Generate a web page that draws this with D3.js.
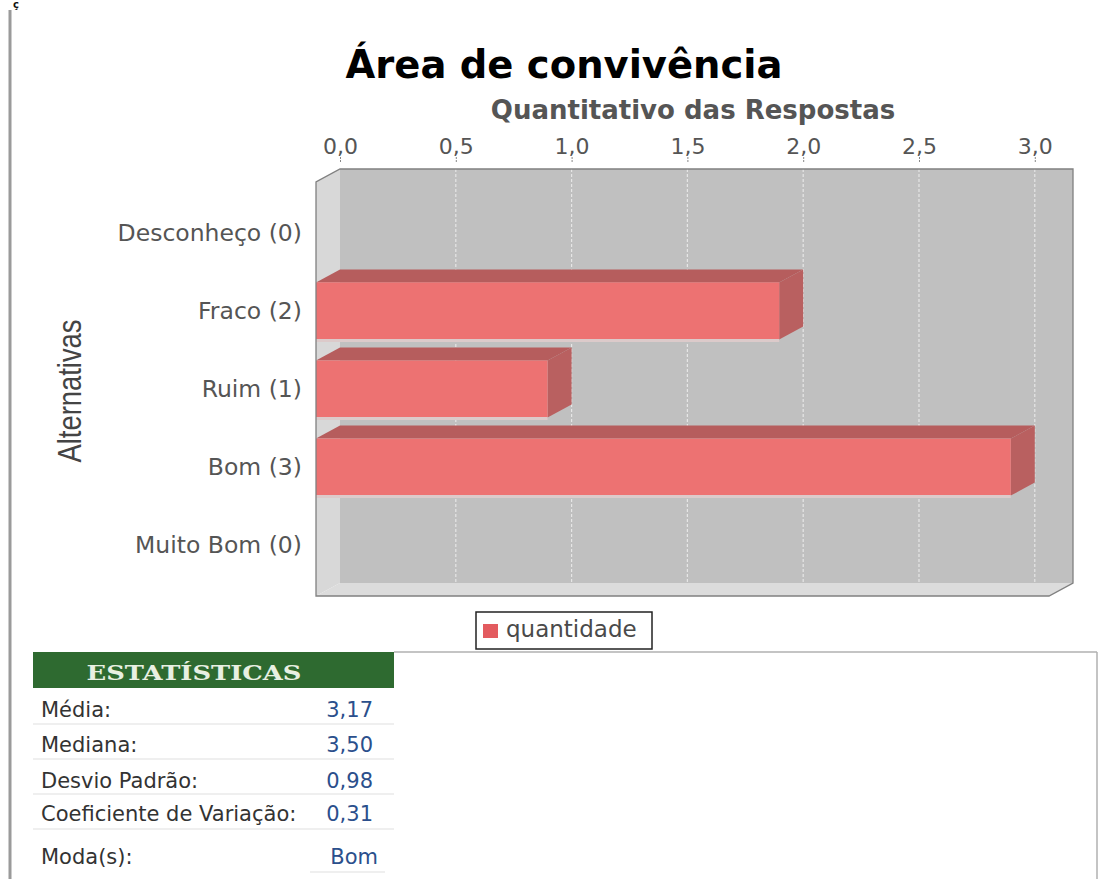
<!DOCTYPE html>
<html>
<head>
<meta charset="utf-8">
<script src="https://cdn.jsdelivr.net/npm/d3@7/dist/d3.min.js"></script>
<style>
  html, body { margin: 0; padding: 0; background: #fff; }
  svg { display: block; }
</style>
</head>
<body>
<svg id="chart" width="1100" height="879"></svg>
<script>
// Survey answers for "Área de convivência"
const categories = ["Desconheço", "Fraco", "Ruim", "Bom", "Muito Bom"];
const counts = [0, 2, 1, 3, 0];
const xTicks = [0, 0.5, 1.0, 1.5, 2.0, 2.5, 3.0];
const seriesName = "quantidade";

// Summary statistics table
const statLabels = ["Média:", "Mediana:", "Desvio Padrão:", "Coeficiente de Variação:", "Moda(s):"];
const statValues = ["3,17", "3,50", "0,98", "0,31", "Bom"];

const svg = d3.select("#chart");
const sans = "'DejaVu Sans', Verdana, sans-serif";

// 3D box geometry: back wall plus depth offset towards the viewer
const depthX = 24, depthY = 13;
const back = { left: 340, right: 1073, top: 169, bottom: 583 };

const x = d3.scaleLinear().domain([0, 3.165]).range([back.left, back.right]);
const y = d3.scaleBand()
  .domain(categories)
  .range([back.top + depthY, back.bottom + depthY])
  .paddingInner(0.27)
  .paddingOuter(0.285);

// page edge on the left
svg.append("line").attr("x1", 10).attr("x2", 10).attr("y1", 10).attr("y2", 879)
  .attr("stroke", "#9a9a9a").attr("stroke-width", 3);
svg.append("text").attr("x", 13).attr("y", 8).attr("font-family", sans)
  .attr("font-weight", "bold").attr("font-size", 10).attr("fill", "#111").text("ç");

// titles
svg.append("text").attr("x", 564).attr("y", 78).attr("text-anchor", "middle")
  .attr("font-family", sans).attr("font-weight", "bold").attr("font-size", 38.5)
  .attr("fill", "#000").text("Área de convivência");
svg.append("text").attr("x", 693).attr("y", 119).attr("text-anchor", "middle")
  .attr("font-family", sans).attr("font-weight", "bold").attr("font-size", 26)
  .attr("fill", "#555").text("Quantitativo das Respostas");

// walls
const plot = svg.append("g");
plot.append("rect").attr("x", back.left).attr("y", back.top)
  .attr("width", back.right - back.left).attr("height", back.bottom - back.top)
  .attr("fill", "#c0c0c0");
plot.append("polygon")
  .attr("points", [[back.left - depthX, back.top + depthY], [back.left, back.top],
                   [back.left, back.bottom], [back.left - depthX, back.bottom + depthY]].join(" "))
  .attr("fill", "#d8d8d8");
plot.append("polygon")
  .attr("points", [[back.left - depthX, back.bottom + depthY], [back.left, back.bottom],
                   [back.right, back.bottom], [back.right - depthX, back.bottom + depthY]].join(" "))
  .attr("fill", "#dcdcdc");

// gridlines on the back wall
plot.selectAll("line.grid").data(xTicks.filter(d => d > 0)).join("line")
  .attr("class", "grid")
  .attr("x1", d => x(d)).attr("x2", d => x(d))
  .attr("y1", back.top).attr("y2", back.bottom)
  .attr("stroke", "#e6e6e6").attr("stroke-width", 1.2).attr("stroke-dasharray", "3,2");

// top value axis
const fmt = d3.format(".1f");
const xAxis = d3.axisTop(x).tickValues(xTicks).tickSize(5).tickPadding(3)
  .tickFormat(d => fmt(d).replace(".", ","));
const axisG = svg.append("g").attr("transform", `translate(0,${back.top - 7})`).call(xAxis);
axisG.select(".domain").remove();
axisG.selectAll(".tick line").attr("stroke", "#888").attr("stroke-dasharray", "2,1");
axisG.selectAll(".tick text").attr("font-family", sans).attr("font-size", 22)
  .attr("fill", "#555");

// bars (front face, top face, right face)
const data = categories.map((c, i) => ({ cat: c, value: counts[i] }));
const bars = plot.selectAll("g.bar").data(data.filter(d => d.value > 0)).join("g").attr("class", "bar");
const x0 = x(0) - depthX;
bars.append("polygon")
  .attr("points", d => {
    const y0 = y(d.cat), xe = x(d.value) - depthX;
    return [[x0, y0], [x0 + depthX, y0 - depthY], [xe + depthX, y0 - depthY], [xe, y0]].join(" ");
  })
  .attr("fill", "#b65d5d");
bars.append("polygon")
  .attr("points", d => {
    const y0 = y(d.cat), xe = x(d.value) - depthX, h = y.bandwidth();
    return [[xe, y0], [xe + depthX, y0 - depthY], [xe + depthX, y0 - depthY + h], [xe, y0 + h]].join(" ");
  })
  .attr("fill", "#b96060");
bars.append("rect")
  .attr("x", x0).attr("y", d => y(d.cat))
  .attr("width", d => x(d.value) - depthX - x0).attr("height", y.bandwidth())
  .attr("fill", "#ed7272");
bars.append("line")
  .attr("x1", x0).attr("x2", d => x(d.value) - depthX)
  .attr("y1", d => y(d.cat) + y.bandwidth() + 1).attr("y2", d => y(d.cat) + y.bandwidth() + 1)
  .attr("stroke", "#dccaca").attr("stroke-width", 3);

// box outline
const outline = d3.path();
outline.moveTo(back.left - depthX, back.bottom + depthY);
outline.lineTo(back.left - depthX, back.top + depthY);
outline.lineTo(back.left, back.top);
outline.lineTo(back.right, back.top);
outline.lineTo(back.right, back.bottom);
outline.lineTo(back.right - depthX, back.bottom + depthY);
outline.closePath();
plot.append("path").attr("d", outline.toString()).attr("fill", "none")
  .attr("stroke", "#808080").attr("stroke-width", 1.3);

// category labels
svg.selectAll("text.cat").data(data).join("text")
  .attr("class", "cat")
  .attr("x", 302).attr("y", d => y(d.cat) + y.bandwidth() / 2 + 8)
  .attr("text-anchor", "end").attr("font-family", sans).attr("font-size", 23.5)
  .attr("fill", "#555").text(d => `${d.cat} (${d.value})`);

svg.append("text")
  .attr("transform", "translate(81,391) rotate(-90)")
  .attr("text-anchor", "middle")
  .attr("font-family", "'Liberation Sans Narrow', 'Liberation Sans', Arial, sans-serif")
  .attr("font-size", 33).attr("fill", "#444")
  .attr("textLength", 143).attr("lengthAdjust", "spacingAndGlyphs")
  .text("Alternativas");

// legend
const legend = svg.append("g");
legend.append("rect").attr("x", 476).attr("y", 612).attr("width", 176).attr("height", 37)
  .attr("fill", "#fff").attr("stroke", "#222").attr("stroke-width", 1.5);
legend.append("rect").attr("x", 483).attr("y", 624).attr("width", 15).attr("height", 14)
  .attr("fill", "#e35b5f");
legend.append("text").attr("x", 506).attr("y", 637).attr("font-family", sans)
  .attr("font-size", 23).attr("fill", "#4a4a4a").text(seriesName);

// statistics panel
const table = svg.append("g");
table.append("line").attr("x1", 394).attr("x2", 1097).attr("y1", 652).attr("y2", 652)
  .attr("stroke", "#b0b0b0").attr("stroke-width", 1.5);
table.append("line").attr("x1", 1097).attr("x2", 1097).attr("y1", 652).attr("y2", 879)
  .attr("stroke", "#b0b0b0").attr("stroke-width", 1.5);
table.append("rect").attr("x", 33).attr("y", 652).attr("width", 361).attr("height", 36)
  .attr("fill", "#2e6a30");
table.append("text").attr("x", 194).attr("y", 680).attr("text-anchor", "middle")
  .attr("font-family", "'DejaVu Serif', Georgia, serif").attr("font-weight", "bold")
  .attr("font-size", 21).attr("fill", "#e8f0e2")
  .attr("textLength", 215).attr("lengthAdjust", "spacingAndGlyphs")
  .text("ESTATÍSTICAS");

const rowBase = [717, 752, 788, 821, 864];
const rowSep = [724, 759, 794, 829];
table.selectAll("line.sep").data(rowSep).join("line").attr("class", "sep")
  .attr("x1", 33).attr("x2", 394).attr("y1", d => d).attr("y2", d => d)
  .attr("stroke", "#e0e0e0").attr("stroke-width", 1.2);
table.append("line").attr("x1", 310).attr("x2", 385).attr("y1", 872).attr("y2", 872)
  .attr("stroke", "#e0e0e0").attr("stroke-width", 1.2);
table.selectAll("text.lbl").data(statLabels).join("text").attr("class", "lbl")
  .attr("x", 41).attr("y", (d, i) => rowBase[i]).attr("font-family", sans)
  .attr("font-size", 21).attr("fill", "#333").text(d => d);
table.selectAll("text.val").data(statValues).join("text").attr("class", "val")
  .attr("x", (d, i) => i === 4 ? 378 : 373).attr("y", (d, i) => rowBase[i])
  .attr("text-anchor", "end").attr("font-family", sans)
  .attr("font-size", 21).attr("fill", "#2b4f8c").text(d => d);
</script>
</body>
</html>
